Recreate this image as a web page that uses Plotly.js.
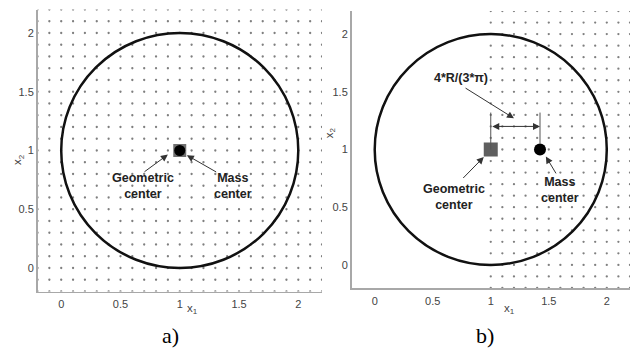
<!DOCTYPE html>
<html>
<head>
<meta charset="utf-8">
<script src="https://cdn.plot.ly/plotly-3.0.1.min.js"></script>
<style>html,body{margin:0;padding:0;background:#fff;}#chart{width:637px;height:352px;}</style>
</head>
<body>
<div id="chart"></div>
<script>
// ---- data ----
var tickVals = [0, 0.5, 1, 1.5, 2];
var tickText = ["0", "0.5", "1", "1.5", "2"];
var axisRange = [-0.2, 2.2];
var circleCenter = [1, 1];
var circleRadius = 1;
var geometricCenter = [1, 1];          // both panels
var massCenterA = [1, 1];              // panel a
var massCenterB = [1 + 4 / (3 * Math.PI), 1]; // panel b: offset 4R/(3π)
var gridStep = 0.1;
var gridStartA = -0.2, gridStartB = 1.0, gridEnd = 2.2;

function gridDots(xStart, xEnd, yStart, yEnd, step) {
  var xs = [], ys = [];
  var nx = Math.round((xEnd - xStart) / step), ny = Math.round((yEnd - yStart) / step);
  for (var i = 0; i <= nx; i++) for (var j = 0; j <= ny; j++) {
    xs.push(+(xStart + i * step).toFixed(3)); ys.push(+(yStart + j * step).toFixed(3));
  }
  return {x: xs, y: ys};
}
var gA = gridDots(gridStartA, gridEnd, -0.2, gridEnd, gridStep);
var gB = gridDots(gridStartB, gridEnd, -0.2, gridEnd, gridStep);

var dotStyle = {size: 2.3, color: '#7f7f7f'};
var traces = [
  {x: gA.x, y: gA.y, mode: 'markers', marker: dotStyle, xaxis: 'x', yaxis: 'y', hoverinfo: 'skip'},
  {x: gB.x, y: gB.y, mode: 'markers', marker: dotStyle, xaxis: 'x2', yaxis: 'y2', hoverinfo: 'skip'},
  {x: [geometricCenter[0]], y: [geometricCenter[1]], mode: 'markers', marker: {symbol: 'square', size: 13, color: '#707070'}, xaxis: 'x', yaxis: 'y'},
  {x: [massCenterA[0]], y: [massCenterA[1]], mode: 'markers', marker: {symbol: 'circle', size: 11, color: '#000'}, xaxis: 'x', yaxis: 'y'},
  {x: [geometricCenter[0]], y: [geometricCenter[1]], mode: 'markers', marker: {symbol: 'square', size: 14, color: '#5f5f5f'}, xaxis: 'x2', yaxis: 'y2'},
  {x: [massCenterB[0]], y: [massCenterB[1]], mode: 'markers', marker: {symbol: 'circle', size: 12, color: '#000'}, xaxis: 'x2', yaxis: 'y2'}
];

var W = 637, H = 352;
function ax(domainPx, extra) {
  var o = {
    domain: domainPx, range: axisRange, tickvals: tickVals, ticktext: tickText,
    showgrid: false, zeroline: false, showline: true, linecolor: '#a8a8a8', linewidth: 1.5,
    ticks: '', tickfont: {family: 'Liberation Sans, Arial, sans-serif', size: 11, color: '#444'},
    fixedrange: true
  };
  for (var k in extra) o[k] = extra[k];
  return o;
}

var tfont = {family: 'Liberation Sans, Arial, sans-serif', size: 12.5, color: '#222'};
var labFont = {family: 'Liberation Sans, Arial, sans-serif', size: 11.5, color: '#444'};
var capFont = {family: 'Liberation Serif, Times New Roman, serif', size: 22, color: '#000'};
var arrowCol = '#333';

function arrow(xr, yr, tail, head, side) {
  return {xref: xr, yref: yr, axref: xr, ayref: yr, x: head[0], y: head[1], ax: tail[0], ay: tail[1],
    text: '', showarrow: true, arrowhead: 2, arrowsize: 1.4, arrowwidth: 1, arrowcolor: arrowCol,
    arrowside: side || 'end', startarrowhead: 2, startarrowsize: 1.4, standoff: 0, startstandoff: 0};
}
function label(xr, yr, pos, txt, font, angle) {
  return {xref: xr, yref: yr, x: pos[0], y: pos[1], text: txt, showarrow: false, font: font || tfont,
    align: 'center', xanchor: 'center', yanchor: 'middle', textangle: angle || 0};
}

var layout = {
  width: W, height: H, margin: {l: 0, r: 0, t: 0, b: 0},
  paper_bgcolor: '#fff', plot_bgcolor: '#fff', showlegend: false,
  xaxis: ax([37.5 / W, 322 / W], {anchor: 'y', ticklabelstandoff: 2}),
  yaxis: ax([(H - 291.5) / H, (H - 9.5) / H], {anchor: 'x'}),
  xaxis2: ax([351.5 / W, 630 / W], {anchor: 'y2', ticklabelstandoff: 2}),
  yaxis2: ax([(H - 288) / H, (H - 11) / H], {anchor: 'x2'}),
  shapes: [
    {type: 'circle', xref: 'x', yref: 'y', x0: circleCenter[0] - circleRadius, x1: circleCenter[0] + circleRadius,
      y0: circleCenter[1] - circleRadius, y1: circleCenter[1] + circleRadius, line: {color: '#111', width: 2.5}},
    {type: 'circle', xref: 'x2', yref: 'y2', x0: circleCenter[0] - circleRadius, x1: circleCenter[0] + circleRadius,
      y0: circleCenter[1] - circleRadius, y1: circleCenter[1] + circleRadius, line: {color: '#111', width: 2.5}},
    {type: 'line', xref: 'x2', yref: 'y2', x0: geometricCenter[0], x1: geometricCenter[0], y0: 1.0, y1: 1.32, line: {color: '#555', width: 1}},
    {type: 'line', xref: 'x2', yref: 'y2', x0: massCenterB[0], x1: massCenterB[0], y0: 1.05, y1: 1.32, line: {color: '#555', width: 1}}
  ],
  annotations: [
    // panel a
    label('x', 'y', [0.69, 0.70], '<b>Geometric<br>center</b>'),
    arrow('x', 'y', [0.69, 0.81], [0.90, 0.965]),
    label('x', 'y', [1.45, 0.70], '<b>Mass<br>center</b>'),
    arrow('x', 'y', [1.32, 0.81], [1.06, 0.96]),
    // panel b
    label('x2', 'y2', [0.74, 1.62], '<b>4*R/(3*π)</b>'),
    arrow('x2', 'y2', [0.77, 1.54], [1.20, 1.27]),
    arrow('x2', 'y2', [geometricCenter[0], 1.20], [massCenterB[0], 1.20], 'end+start'),
    label('x2', 'y2', [0.68, 0.59], '<b>Geometric<br>center</b>'),
    arrow('x2', 'y2', [0.75, 0.74], [0.94, 0.935]),
    label('x2', 'y2', [1.60, 0.65], '<b>Mass<br>center</b>'),
    arrow('x2', 'y2', [1.57, 0.78], [1.475, 0.94]),
    // axis titles
    label('x', 'paper', [1.11, (H - 309) / H], 'x<sub>1</sub>', labFont),
    label('paper', 'y', [18 / W, 0.92], 'x<sub>2</sub>', labFont, -90),
    label('x2', 'paper', [1.16, (H - 309) / H], 'x<sub>1</sub>', labFont),
    label('paper', 'y2', [330 / W, 1.15], 'x<sub>2</sub>', labFont, -90),
    // captions
    label('paper', 'paper', [170 / W, (H - 335) / H], 'a)', capFont),
    label('paper', 'paper', [485 / W, (H - 335) / H], 'b)', capFont)
  ]
};

Plotly.newPlot('chart', traces, layout, {staticPlot: true, displayModeBar: false});
</script>
</body>
</html>
